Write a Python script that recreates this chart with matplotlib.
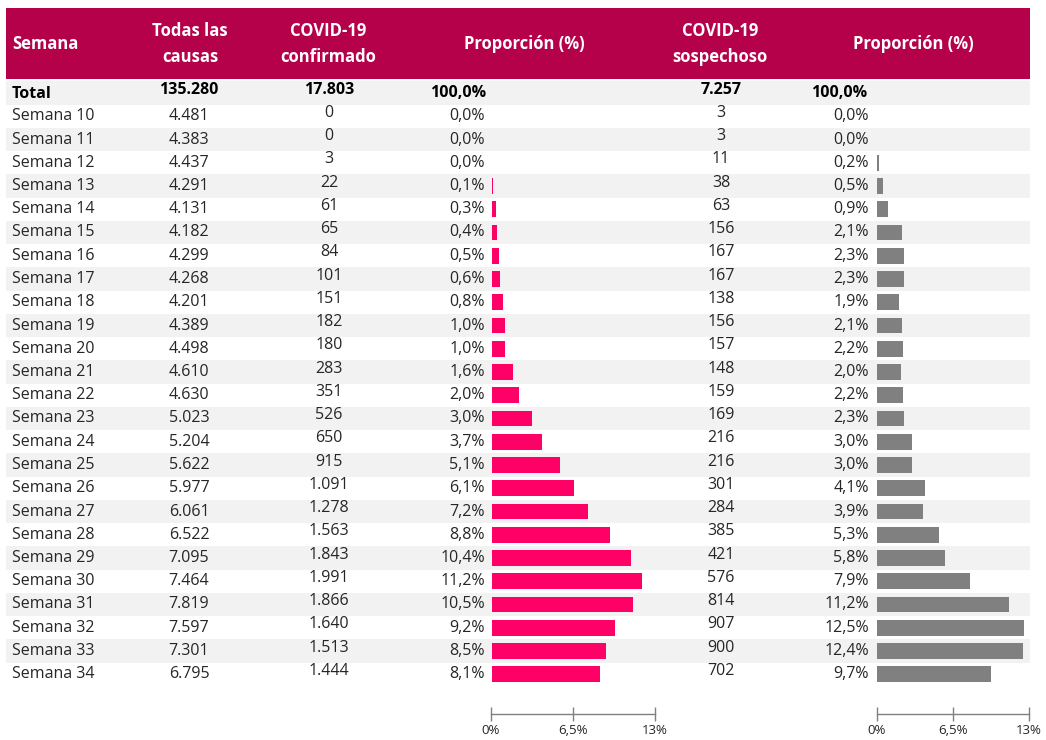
import matplotlib
matplotlib.use("Agg")
import matplotlib.pyplot as plt
from matplotlib.patches import Rectangle

plt.rcParams['font.family'] = ['Open Sans', 'DejaVu Sans']

# ---- data ----
weeks = [f"Semana {w}" for w in range(10, 35)]
all_causes = [4481, 4383, 4437, 4291, 4131, 4182, 4299, 4268, 4201, 4389, 4498, 4610, 4630,
              5023, 5204, 5622, 5977, 6061, 6522, 7095, 7464, 7819, 7597, 7301, 6795]
confirmed = [0, 0, 3, 22, 61, 65, 84, 101, 151, 182, 180, 283, 351,
             526, 650, 915, 1091, 1278, 1563, 1843, 1991, 1866, 1640, 1513, 1444]
prop_confirmed = [0.0, 0.0, 0.0, 0.1, 0.3, 0.4, 0.5, 0.6, 0.8, 1.0, 1.0, 1.6, 2.0,
                  3.0, 3.7, 5.1, 6.1, 7.2, 8.8, 10.4, 11.2, 10.5, 9.2, 8.5, 8.1]
suspected = [3, 3, 11, 38, 63, 156, 167, 167, 138, 156, 157, 148, 159,
             169, 216, 216, 301, 284, 385, 421, 576, 814, 907, 900, 702]
prop_suspected = [0.0, 0.0, 0.2, 0.5, 0.9, 2.1, 2.3, 2.3, 1.9, 2.1, 2.2, 2.0, 2.2,
                  2.3, 3.0, 3.0, 4.1, 3.9, 5.3, 5.8, 7.9, 11.2, 12.5, 12.4, 9.7]
total_all = 135280
total_confirmed = 17803
total_suspected = 7257
headers = ["Semana", "Todas las\ncausas", "COVID-19\nconfirmado", "Proporción (%)",
           "COVID-19\nsospechoso", "Proporción (%)"]
scale_ticks = [0, 6.5, 13]
scale_labels = ["0%", "6,5%", "13%"]

# ---- formatting helpers ----
def fmt_int(v):
    return f"{v:,}".replace(",", ".")

def fmt_pct(v):
    return f"{v:.1f}%".replace(".", ",")

HEADER_BG = "#B5004A"
STRIPE = "#F2F2F2"
TXT = "#262626"
PINK = "#FF0066"
GREY = "#808080"

W, H = 1046, 740
fig = plt.figure(figsize=(W / 100, H / 100), dpi=100)

# row mapping: pixel y = y0 + step * row_index
y0, step = 93.0, 23.25
ylim = ((H - y0) / step, (0 - y0) / step)

def py(p):  # pixel y -> row units
    return (p - y0) / step

ax = fig.add_axes([0, 0, 1, 1])
ax.set_xlim(0, W)
ax.set_ylim(*ylim)
ax.axis("off")

# header band
ax.add_patch(Rectangle((6, py(8)), 1024, py(79) - py(8), color=HEADER_BG, lw=0, zorder=0))

# stripes (Total and odd weeks)
n = len(weeks)
for i in range(0, n + 1, 2):
    ax.add_patch(Rectangle((6, i - 0.5), 1024, 1.0, color=STRIPE, lw=0, zorder=0))

# header text
hy = py(44)
hkw = dict(color="white", fontsize=12, fontweight="bold", va="center", linespacing=1.55)
ax.text(12, hy, headers[0], ha="left", **hkw)
ax.text(190, hy, headers[1], ha="center", **hkw)
ax.text(328, hy, headers[2], ha="center", **hkw)
ax.text(524, hy, headers[3], ha="center", **hkw)
ax.text(720, hy, headers[4], ha="center", **hkw)
ax.text(913, hy, headers[5], ha="center", **hkw)

fs = 11.5
num_off = -0.15
# total row
bkw = dict(color="black", fontsize=fs, fontweight="bold", va="center")
ax.text(12, 0.05, "Total", ha="left", **bkw)
ax.text(189, num_off, fmt_int(total_all), ha="center", **bkw)
ax.text(329, num_off, fmt_int(total_confirmed), ha="center", **bkw)
ax.text(486, 0, fmt_pct(100.0), ha="right", **bkw)
ax.text(721, num_off, fmt_int(total_suspected), ha="center", **bkw)
ax.text(867, 0, fmt_pct(100.0), ha="right", **bkw)

rkw = dict(color=TXT, fontsize=fs, va="center")
for k in range(n):
    r = k + 1
    ax.text(12, r, weeks[k], ha="left", **rkw)
    ax.text(189, r, fmt_int(all_causes[k]), ha="center", **rkw)
    ax.text(329, r + num_off, fmt_int(confirmed[k]), ha="center", **rkw)
    ax.text(485, r, fmt_pct(prop_confirmed[k]), ha="right", **rkw)
    ax.text(721, r + num_off, fmt_int(suspected[k]), ha="center", **rkw)
    ax.text(869, r, fmt_pct(prop_suspected[k]), ha="right", **rkw)

rows = list(range(1, n + 1))

def bar_axes(x0, width_px, values, color):
    b = fig.add_axes([x0 / W, 0, width_px / W, 1])
    b.set_xlim(0, 13)
    b.set_ylim(*ylim)
    b.axis("off")
    b.patch.set_alpha(0)
    b.barh(rows, values, height=0.68, color=color, linewidth=0)
    return b

bar_axes(492, 174, prop_confirmed, PINK)
bar_axes(877, 153, prop_suspected, GREY)

def scale_axes(x0, width_px):
    s = fig.add_axes([x0 / W, 1 - 714 / H, width_px / W, 0.0001])
    s.set_xlim(0, 13)
    s.set_yticks([])
    for side in ("left", "right", "top"):
        s.spines[side].set_visible(False)
    s.spines["bottom"].set_color(GREY)
    s.spines["bottom"].set_linewidth(1.0)
    s.set_xticks(scale_ticks)
    s.set_xticklabels(scale_labels)
    s.tick_params(axis="x", direction="inout", length=10, width=1.0, color=GREY,
                  labelsize=9.5, labelcolor=TXT, pad=2)
    s.patch.set_alpha(0)

scale_axes(491, 164)
scale_axes(877, 152)

fig.savefig("out.png", dpi=100)
